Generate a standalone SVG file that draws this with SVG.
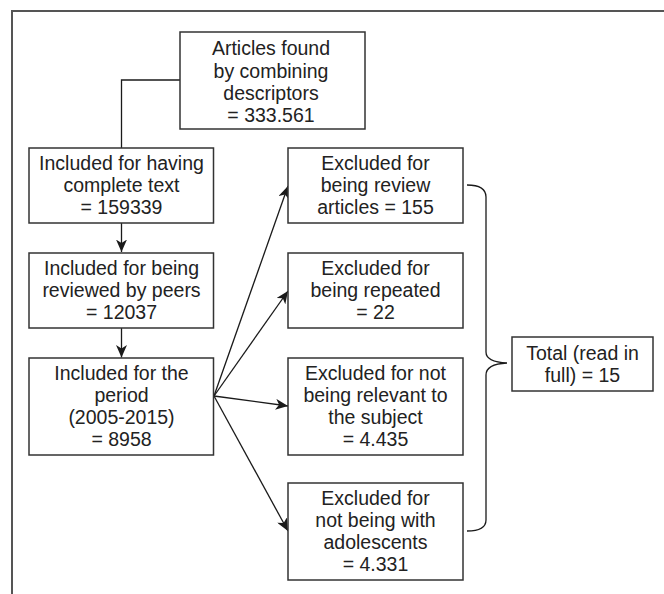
<svg xmlns="http://www.w3.org/2000/svg" width="664" height="594" viewBox="0 0 664 594">
<defs>
<marker id="ah" markerUnits="userSpaceOnUse" markerWidth="13" markerHeight="11" refX="12.5" refY="5.5" orient="auto">
<path d="M0,0 L12.5,5.5 L0,11 L3.5,5.5 Z" fill="#1a1a1a"/>
</marker>
<style>
.box{fill:#fff;stroke:#333;stroke-width:1.5}
.t{font-family:"Liberation Sans",Arial,Helvetica,sans-serif;font-size:19.5px;fill:#222;text-anchor:middle}
.c{fill:none;stroke:#1a1a1a;stroke-width:1.3}
.frame{fill:none;stroke:#555;stroke-width:2}
</style>
</defs>
<rect width="664" height="594" fill="#fff"/>
<path class="frame" d="M12,594 V11 H664"/>
<g id="connectors">
<path class="c" d="M180,80 H121.5 V148"/>
<path class="c" d="M121.5,223 V252" marker-end="url(#ah)"/>
<path class="c" d="M121.5,328 V357.5" marker-end="url(#ah)"/>
<path class="c" d="M214,396 L288,186" marker-end="url(#ah)"/>
<path class="c" d="M214,396 L288,291" marker-end="url(#ah)"/>
<path class="c" d="M214,396 L288,406" marker-end="url(#ah)"/>
<path class="c" d="M214,396 L288,531" marker-end="url(#ah)"/>
<path class="c" d="M467,185 Q486,185 486,197 L486,352 Q486,362 507,363 Q486,364 486,375 L486,520 Q486,531 467,531"/>
</g>
<g id="n-articles">
<rect class="box" x="180" y="32" width="185" height="97"/>
<text class="t" x="271" y="55">Articles found</text>
<text class="t" x="271" y="77.5">by combining</text>
<text class="t" x="271" y="100">descriptors</text>
<text class="t" x="271" y="122">= 333.561</text>
</g>
<g id="n-complete">
<rect class="box" x="29" y="148" width="184.5" height="75"/>
<text class="t" x="121.5" y="170">Included for having</text>
<text class="t" x="121.5" y="192">complete text</text>
<text class="t" x="121.5" y="214">= 159339</text>
</g>
<g id="n-peers">
<rect class="box" x="29" y="253" width="184.5" height="75"/>
<text class="t" x="121.5" y="275">Included for being</text>
<text class="t" x="121.5" y="297">reviewed by peers</text>
<text class="t" x="121.5" y="319">= 12037</text>
</g>
<g id="n-period">
<rect class="box" x="29" y="358" width="184.5" height="97"/>
<text class="t" x="121.5" y="380">Included for the</text>
<text class="t" x="121.5" y="402">period</text>
<text class="t" x="121.5" y="424">(2005-2015)</text>
<text class="t" x="121.5" y="446">= 8958</text>
</g>
<g id="n-review">
<rect class="box" x="288" y="148" width="175" height="75"/>
<text class="t" x="375.5" y="170">Excluded for</text>
<text class="t" x="375.5" y="192">being review</text>
<text class="t" x="375.5" y="214">articles = 155</text>
</g>
<g id="n-repeated">
<rect class="box" x="288" y="253" width="175" height="75"/>
<text class="t" x="375.5" y="275">Excluded for</text>
<text class="t" x="375.5" y="297">being repeated</text>
<text class="t" x="375.5" y="319">= 22</text>
</g>
<g id="n-relevant">
<rect class="box" x="288" y="358" width="175" height="97"/>
<text class="t" x="375.5" y="380">Excluded for not</text>
<text class="t" x="375.5" y="402">being relevant to</text>
<text class="t" x="375.5" y="424">the subject</text>
<text class="t" x="375.5" y="446">= 4.435</text>
</g>
<g id="n-adolescents">
<rect class="box" x="288" y="483" width="175" height="97"/>
<text class="t" x="375.5" y="505">Excluded for</text>
<text class="t" x="375.5" y="527">not being with</text>
<text class="t" x="375.5" y="549">adolescents</text>
<text class="t" x="375.5" y="571">= 4.331</text>
</g>
<g id="n-total">
<rect class="box" x="512" y="337" width="141" height="54"/>
<text class="t" x="582.5" y="359.5">Total (read in</text>
<text class="t" x="582.5" y="381.5">full) = 15</text>
</g>
</svg>
